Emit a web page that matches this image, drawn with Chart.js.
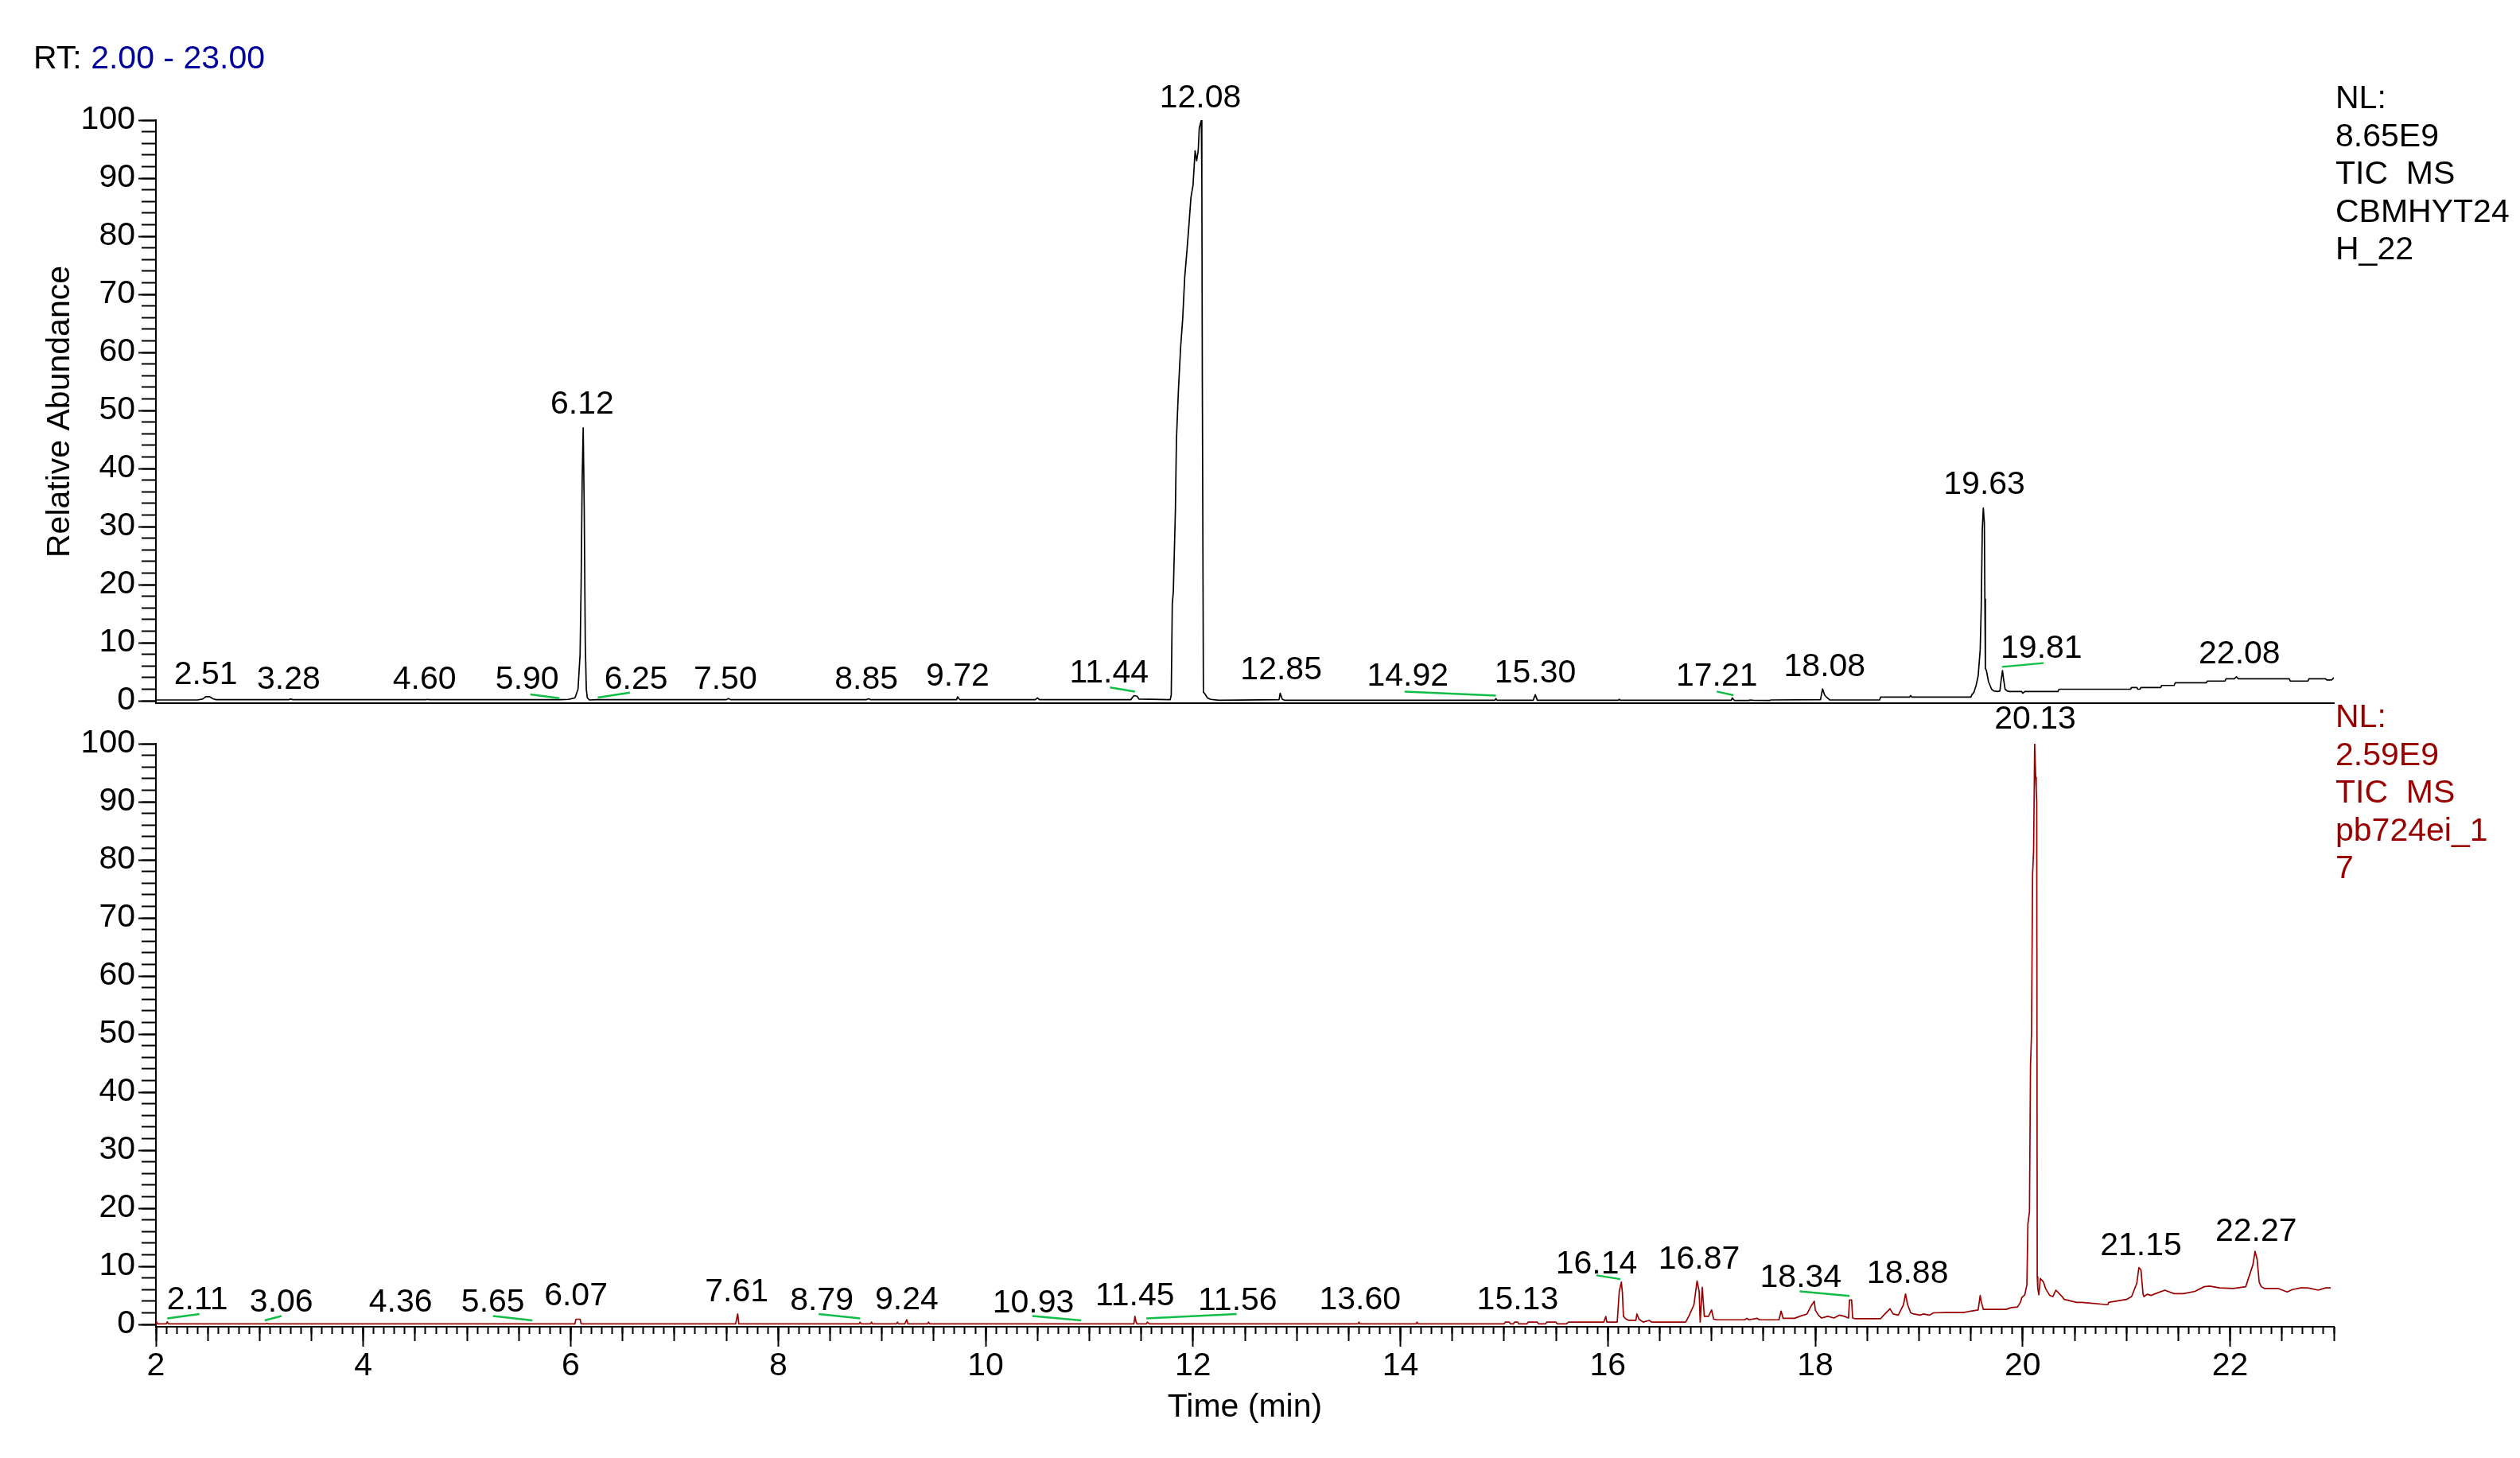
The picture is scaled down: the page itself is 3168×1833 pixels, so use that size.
<!DOCTYPE html>
<html><head><meta charset="utf-8">
<script src="https://cdn.jsdelivr.net/npm/chart.js@4.4.1/dist/chart.umd.min.js"></script>
<style>
html,body{margin:0;padding:0;background:#fff;width:3168px;height:1833px;overflow:hidden}
canvas{position:absolute;left:0;top:0}
</style></head>
<body>
<canvas id="c1" width="3168" height="1833"></canvas>
<canvas id="c2" width="3168" height="1833"></canvas>
<script>
// ---------------- data ----------------
const xMin = 2, xMax = 23;
const yMin = -0.4, yMax = 100;

// Top trace (CBMHYT24H_22) : retention time / relative abundance
const topT = [2.00,2.40,2.45,2.48,2.52,2.55,2.58,3.28,3.30,3.32,4.60,4.62,4.64,5.90,5.98,6.04,6.07,6.09,6.10,6.11,6.12,6.13,6.14,6.15,6.16,6.18,6.25,7.50,7.52,7.54,8.85,8.87,8.89,9.72,9.73,9.75,10.48,10.50,10.52,11.40,11.43,11.46,11.48,11.78,11.79,11.80,11.81,11.83,11.84,11.86,11.88,11.90,11.92,11.94,11.96,11.98,12.00,12.02,12.035,12.05,12.06,12.08,12.085,12.09,12.10,12.11,12.14,12.17,12.25,12.83,12.84,12.86,12.88,14.91,14.92,14.93,15.28,15.30,15.32,16.10,16.11,16.12,17.19,17.20,17.22,17.36,17.37,17.40,17.56,17.57,18.05,18.07,18.09,18.11,18.14,18.62,18.63,18.91,18.92,18.93,19.50,19.51,19.53,19.55,19.57,19.59,19.60,19.61,19.62,19.63,19.635,19.64,19.65,19.67,19.70,19.72,19.76,19.78,19.79,19.805,19.815,19.83,19.85,19.87,19.99,20.00,20.02,20.34,20.35,21.04,21.05,21.10,21.11,21.13,21.14,21.33,21.34,21.46,21.47,21.77,21.78,21.95,21.96,22.04,22.06,22.08,22.57,22.58,22.75,22.76,22.92,22.93,22.98,23.00];
const topV = [0.15,0.15,0.3,0.7,0.7,0.35,0.2,0.2,0.3,0.2,0.2,0.25,0.2,0.2,0.25,0.5,2,8,20,38,47,33,10,2,0.5,0.15,0.2,0.2,0.4,0.2,0.2,0.35,0.2,0.2,0.7,0.2,0.2,0.5,0.2,0.2,0.9,0.8,0.3,0.2,1,16.7,18.8,32.8,45,53.8,60.8,65.7,73,77.2,81.8,86.7,88.8,94.7,93,94.7,98.6,100,89.9,53.8,1.5,1.3,0.5,0.25,0.1,0.2,1.3,0.3,0.1,0.1,0.4,0.1,0.1,1.05,0.1,0.1,0.25,0.1,0.1,0.5,0.05,0.05,0.15,0.1,0.05,0.15,0.2,2.05,1.0,0.6,0.15,0.15,0.65,0.65,0.9,0.65,0.65,1.05,1.5,2.65,4.25,8.8,16.1,29.4,33.2,30.7,17.5,5.6,5.2,3.3,2.0,1.7,1.6,1.7,3.3,5.2,3.8,2.0,1.7,1.6,1.6,1.3,1.6,1.6,2.0,2.0,2.3,2.3,2.0,2.0,2.3,2.3,2.65,2.65,3.1,3.1,3.4,3.4,3.8,3.8,4.15,3.8,3.8,3.4,3.4,3.8,3.8,3.6,3.6,4.0];

// Bottom trace (pb724ei_17)
const botT = [2.00,2.005,2.015,2.10,2.11,2.12,3.06,3.07,3.08,6.04,6.05,6.09,6.10,7.59,7.60,7.61,7.62,8.78,8.79,8.80,8.89,8.90,8.91,9.14,9.15,9.16,9.22,9.24,9.25,9.44,9.45,9.46,11.43,11.44,11.45,11.46,11.55,11.56,11.58,13.59,13.60,13.61,14.15,14.16,14.17,15.00,15.01,15.05,15.06,15.09,15.10,15.13,15.14,15.22,15.23,15.32,15.33,15.40,15.41,15.50,15.51,15.60,15.62,15.96,15.98,15.99,16.09,16.11,16.13,16.14,16.15,16.17,16.20,16.27,16.28,16.30,16.34,16.40,16.42,16.75,16.78,16.83,16.86,16.88,16.89,16.91,16.93,16.97,17.00,17.02,17.05,17.32,17.34,17.36,17.44,17.46,17.65,17.67,17.69,17.80,17.85,17.92,17.96,17.99,18.00,18.03,18.06,18.12,18.18,18.23,18.28,18.32,18.33,18.35,18.36,18.38,18.63,18.66,18.72,18.75,18.80,18.85,18.87,18.89,18.92,18.95,19.01,19.04,19.10,19.14,19.26,19.43,19.50,19.57,19.59,19.60,19.62,19.72,19.84,19.89,19.95,19.98,19.99,20.02,20.04,20.05,20.065,20.075,20.085,20.095,20.105,20.115,20.125,20.13,20.135,20.14,20.145,20.155,20.17,20.20,20.22,20.26,20.29,20.32,20.38,20.40,20.45,20.52,20.57,20.82,20.83,20.86,21.00,21.05,21.10,21.12,21.14,21.16,21.17,21.20,21.24,21.28,21.37,21.40,21.46,21.55,21.66,21.75,21.80,21.90,22.03,22.15,22.22,22.24,22.26,22.28,22.30,22.33,22.46,22.55,22.60,22.68,22.75,22.85,22.92,22.97,23.00];
const botV = [0.1,0.5,0.1,0.1,0.45,0.1,0.1,0.2,0.1,0.1,0.9,0.9,0.1,0.1,1.0,1.8,0.1,0.1,0.4,0.1,0.1,0.4,0.1,0.1,0.4,0.1,0.1,0.8,0.1,0.1,0.4,0.1,0.1,1.4,0.5,0.1,0.1,0.4,0.1,0.1,0.4,0.1,0.1,0.4,0.1,0.1,0.4,0.4,0.1,0.1,0.4,0.4,0.1,0.1,0.4,0.4,0.1,0.1,0.4,0.4,0.1,0.1,0.4,0.4,1.37,0.4,0.4,5.7,7.3,5.5,1.4,1.0,0.7,0.7,1.8,0.9,0.4,0.7,0.4,0.4,1.4,3.4,7.5,5.7,0.4,6.4,1.4,1.4,2.5,0.9,0.8,0.8,1.05,0.8,1.05,0.8,0.8,2.3,1.05,1.05,1.4,1.8,3.2,4.0,2.5,1.6,1.1,1.4,1.1,1.6,1.4,1.1,4.2,4.2,1.1,1.0,1.0,1.6,2.7,1.8,1.6,3.4,5.25,3.4,2.0,1.8,1.6,1.8,1.6,2.0,2.05,2.05,2.3,2.5,5.0,3.9,2.6,2.6,2.6,2.9,3.0,3.9,4.6,5.1,6.8,17.3,19.4,44.6,50.2,77.4,81.6,100,94.2,92.1,90,8.2,6.2,5.1,7.9,7.3,6.2,5.0,4.8,5.9,4.8,4.3,4.1,3.8,3.8,3.4,3.8,3.9,4.3,4.8,7.1,9.8,9.4,5.2,4.8,5.2,5.0,5.3,5.9,5.7,5.3,5.3,5.7,6.5,6.6,6.3,6.2,6.5,10.3,12.6,11.2,7.3,6.5,6.2,6.2,5.6,6.0,6.3,6.3,5.9,6.3,6.3];

// Peak labels (text, anchor time, anchor abundance)
const topLabelText = ["12.08","6.12","19.63","2.51","3.28","4.60","5.90","6.25","7.50","8.85","9.72","11.44","12.85","14.92","15.30","17.21","18.08","19.81","22.08"];
const topLabelT = [12.07,6.11,19.63,2.48,3.28,4.59,5.58,6.63,7.49,8.85,9.73,11.19,12.85,14.07,15.30,17.05,18.09,20.18,22.09];
const topLabelV = [103.8,51,37.2,4.4,3.6,3.6,3.6,3.6,3.6,3.6,4.1,4.7,5.2,4.1,4.7,4.1,5.8,8.9,8.0];

const botLabelText = ["20.13","2.11","3.06","4.36","5.65","6.07","7.61","8.79","9.24","10.93","11.45","11.56","13.60","15.13","16.14","16.87","18.34","18.88","21.15","22.27"];
const botLabelT = [20.12,2.40,3.21,4.36,5.25,6.05,7.60,8.42,9.24,10.46,11.44,12.43,13.61,15.13,15.89,16.88,17.86,18.89,21.14,22.25];
const botLabelV = [104.1,4.1,3.7,3.7,3.7,4.8,5.5,4.0,4.2,3.65,4.8,4.0,4.1,4.1,10.3,11.1,8.0,8.7,13.5,15.9];

// Green baseline markers (start/end time, start/end abundance)
const topMarkT = [[5.61,5.89],[6.26,6.57],[11.20,11.44],[14.04,14.92],[17.05,17.21],[19.80,20.20]];
const topMarkV = [[1.1,0.45],[0.55,1.4],[2.3,1.6],[1.6,0.9],[1.6,0.96],[5.85,6.5]];
const botMarkT = [[2.11,2.42],[3.05,3.21],[5.25,5.63],[8.39,8.79],[10.45,10.92],[11.55,12.42],[15.89,16.12],[17.85,18.33]];
const botMarkV = [[1.05,1.8],[0.7,1.45],[1.45,0.7],[1.8,1.05],[1.45,0.7],[1.05,1.8],[8.45,7.8],[5.7,4.9]];

// Axis ticks
const yMajorTicks = [0,10,20,30,40,50,60,70,80,90,100];
const yMinorTicks = []; for (let v = 0; v <= 100; v += 2) yMinorTicks.push(v);
const xLabelTicks = [2,4,6,8,10,12,14,16,18,20,22];
const xMidTicks = []; for (let i = 0; i <= 42; i++) xMidTicks.push(2 + i * 0.5);
const xMinorTicks = []; for (let i = 0; i <= 210; i++) xMinorTicks.push(Math.round((2 + i * 0.1) * 10) / 10);

// ---------------- styling ----------------
const FONT = "'Liberation Sans', Arial, sans-serif";
const FS = 41;
const BLACK = '#000000', RED = '#990000', GREEN = '#10BE45', BLUE = '#00009C';
Chart.defaults.font.family = FONT;
Chart.defaults.font.size = FS;
Chart.defaults.color = BLACK;

function setTicks(list) { return s => { s.ticks = list.map(v => ({ value: v })); }; }

function yScales(title) {
  return {
    y: {
      type: 'linear', position: 'left', weight: 1, min: yMin, max: yMax,
      afterBuildTicks: setTicks(yMajorTicks),
      afterFit: s => { s.width = 196; },
      grid: { drawOnChartArea: false, drawTicks: true, tickLength: 22, tickWidth: 2, tickColor: BLACK },
      border: { display: true, color: BLACK, width: 2 },
      ticks: { padding: 4, color: BLACK, font: { size: FS }, callback: v => String(v) },
      title: { display: !!title, text: title || '', color: BLACK, font: { size: FS }, padding: { top: 51, bottom: 0 } }
    },
    ym: {
      type: 'linear', position: 'left', weight: 0, min: yMin, max: yMax,
      afterBuildTicks: setTicks(yMinorTicks),
      afterFit: s => { s.width = 0; },
      grid: { drawOnChartArea: false, drawTicks: true, tickLength: 18, tickWidth: 2, tickColor: BLACK },
      border: { display: false },
      ticks: { display: false }
    }
  };
}

function traceDataset(T, V, color) {
  return {
    data: T.map((t, i) => ({ x: t, y: V[i] })),
    borderColor: color, borderWidth: 1.7, pointRadius: 0, tension: 0, fill: false,
    xAxisID: 'x', yAxisID: 'y', order: 1
  };
}
function markDatasets(MT, MV) {
  return MT.map((seg, i) => ({
    data: [{ x: seg[0], y: MV[i][0] }, { x: seg[1], y: MV[i][1] }],
    borderColor: GREEN, borderWidth: 2.5, pointRadius: 0, tension: 0, fill: false,
    xAxisID: 'x', yAxisID: 'y', order: 0
  }));
}

function labelPlugin(texts, ts, vs, extra) {
  return {
    id: 'peakLabels',
    afterDraw(chart) {
      const ctx = chart.ctx, xs = chart.scales.x, ys = chart.scales.y;
      ctx.save();
      ctx.font = FS + 'px ' + FONT;
      ctx.textAlign = 'center';
      ctx.textBaseline = 'middle';
      ctx.fillStyle = BLACK;
      texts.forEach((txt, i) => {
        ctx.fillText(txt, xs.getPixelForValue(ts[i]), ys.getPixelForValue(vs[i]));
      });
      ctx.restore();
      if (extra) extra(ctx, chart);
    }
  };
}

function nlBlock(ctx, lines, color, x, y0, dy) {
  ctx.save();
  ctx.font = FS + 'px ' + FONT;
  ctx.textAlign = 'left';
  ctx.textBaseline = 'middle';
  ctx.fillStyle = color;
  lines.forEach((l, i) => ctx.fillText(l, x, y0 + i * dy));
  ctx.restore();
}

const baseOpts = {
  responsive: false, animation: false, devicePixelRatio: 1,
  plugins: { legend: { display: false }, tooltip: { enabled: false } },
  elements: { line: { borderJoinStyle: 'round' } }
};

// ---------------- top chart ----------------
new Chart(document.getElementById('c1'), {
  type: 'line',
  data: { datasets: [traceDataset(topT, topV, BLACK), ...markDatasets(topMarkT, topMarkV)] },
  options: Object.assign({}, baseOpts, {
    layout: { padding: { left: 0, top: 151, right: 234, bottom: 949 } },
    scales: Object.assign({
      x: {
        type: 'linear', position: 'bottom', min: xMin, max: xMax,
        afterFit: s => { s.height = 0; },
        grid: { display: false, drawTicks: false },
        border: { display: true, color: BLACK, width: 2 },
        ticks: { display: false }
      }
    }, yScales('Relative Abundance'))
  }),
  plugins: [labelPlugin(topLabelText, topLabelT, topLabelV, (ctx) => {
    ctx.save();
    ctx.font = FS + 'px ' + FONT;
    ctx.textAlign = 'left';
    ctx.textBaseline = 'middle';
    ctx.fillStyle = BLACK;
    const pre = 'RT: ';
    ctx.fillText(pre, 42, 75);
    const w = ctx.measureText(pre).width;
    ctx.fillStyle = BLUE;
    ctx.fillText('2.00 - 23.00', 42 + w, 75);
    ctx.restore();
    nlBlock(ctx, ['NL:', '8.65E9', 'TIC  MS', 'CBMHYT24', 'H_22'], BLACK, 2936, 125, 47.5);
  })]
});

// ---------------- bottom chart ----------------
new Chart(document.getElementById('c2'), {
  type: 'line',
  data: { datasets: [traceDataset(botT, botV, RED), ...markDatasets(botMarkT, botMarkV)] },
  options: Object.assign({}, baseOpts, {
    layout: { padding: { left: 0, top: 935, right: 234, bottom: 0 } },
    scales: Object.assign({
      x: {
        type: 'linear', position: 'bottom', weight: 1, min: xMin, max: xMax,
        afterBuildTicks: setTicks(xLabelTicks),
        afterFit: s => { s.height = 165; },
        grid: { drawOnChartArea: false, drawTicks: true, tickLength: 25, tickWidth: 2, tickColor: BLACK },
        border: { display: true, color: BLACK, width: 2 },
        ticks: { padding: 0, color: BLACK, maxRotation: 0, autoSkip: false, font: { size: FS }, callback: v => String(v) },
        title: { display: true, text: 'Time (min)', color: BLACK, font: { size: FS }, padding: { top: 0, bottom: 39 } }
      },
      xm: {
        type: 'linear', position: 'bottom', weight: 0, min: xMin, max: xMax,
        afterBuildTicks: setTicks(xMidTicks),
        afterFit: s => { s.height = 0; },
        grid: { drawOnChartArea: false, drawTicks: true, tickLength: 18, tickWidth: 2, tickColor: BLACK },
        border: { display: false },
        ticks: { display: false }
      },
      xn: {
        type: 'linear', position: 'bottom', weight: 0, min: xMin, max: xMax,
        afterBuildTicks: setTicks(xMinorTicks),
        afterFit: s => { s.height = 0; },
        grid: { drawOnChartArea: false, drawTicks: true, tickLength: 9, tickWidth: 2, tickColor: BLACK },
        border: { display: false },
        ticks: { display: false }
      }
    }, yScales(null))
  }),
  plugins: [labelPlugin(botLabelText, botLabelT, botLabelV, (ctx) => {
    nlBlock(ctx, ['NL:', '2.59E9', 'TIC  MS', 'pb724ei_1', '7'], RED, 2936, 903, 47.5);
  })]
});
</script>
</body></html>
